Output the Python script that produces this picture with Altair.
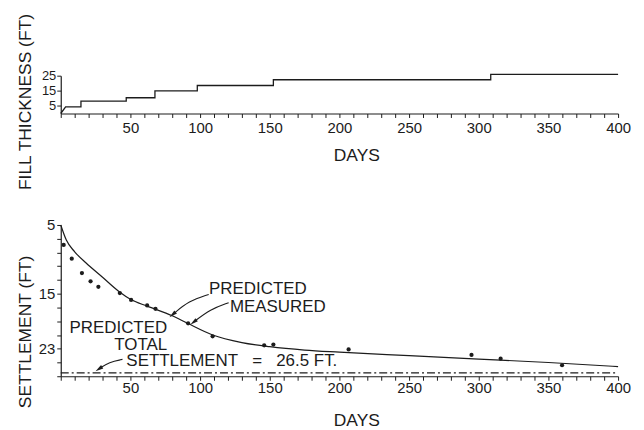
import math
import altair as alt
import pandas as pd

# ---- data ----
fill_days = [0, 3.5, 14.5, 14.5, 47, 47, 67.6, 67.6, 98, 98, 152.6, 152.6, 308.6, 308.6, 400]
fill_ft = [0, 4.4, 4.4, 8.2, 8.2, 10.4, 10.4, 15.0, 15.0, 18.5, 18.5, 22.3, 22.3, 25.8, 25.8]

meas_days = [2.1, 7.9, 15.2, 21.4, 27, 42.4, 50.5, 62, 68, 91.4, 109, 146, 152.6, 206.6, 294.8, 315.7, 359.8]
meas_ft = [7.9, 9.9, 12.0, 13.2, 14.0, 14.9, 15.9, 16.7, 17.2, 19.3, 21.2, 22.5, 22.4, 23.1, 23.9, 24.45, 25.4]

pred_days = [0, 4, 10, 18, 30, 42, 50, 62, 80, 91, 109, 130, 150, 175, 200, 250, 300, 350, 400]
pred_ft = [5, 7.2, 8.9, 10.5, 12.6, 14.7, 15.8, 16.8, 18.2, 19.3, 21.0, 22.1, 22.7, 23.2, 23.5, 24.0, 24.5, 25.0, 25.6]

total_days = [0, 400]
total_ft = [26.5, 26.5]

ann_text = ["PREDICTED", "MEASURED", "PREDICTED", "TOTAL",
            "SETTLEMENT\u00a0\u00a0 =\u00a0\u00a0 26.5 FT."]
ann_day = [106.4, 121.4, 76.4, 76.4, 47.1]
ann_ft = [14.35, 16.9, 20.0, 22.4, 24.8]
ann_align = ["left", "left", "right", "right", "left"]

# arrows: start, bend, tip (day, ft)
arrow_days = [[106.2, 91.9, 80.5], [120.5, 107.4, 95.5], [44.3, 34.8, 27.6]]
arrow_ft = [[15.1, 16.05, 18.0], [16.3, 17.25, 19.1], [24.55, 24.93, 25.9]]

# ---- styling ----
INK = "#1c1c1c"
FONT = "Liberation Sans"
W = 560
H_TOP = 38
H_BOT = 152
X_DOM = [0, 400]
Y_BOT_DOM = [5, 27]

fill_df = pd.DataFrame({"day": fill_days, "ft": fill_ft, "i": range(len(fill_days))})
meas_df = pd.DataFrame({"day": meas_days, "ft": meas_ft})
pred_df = pd.DataFrame({"day": pred_days, "ft": pred_ft})
total_df = pd.DataFrame({"day": total_days, "ft": total_ft})
ann_df = pd.DataFrame({"day": ann_day, "ft": ann_ft, "text": ann_text, "align": ann_align})

rows = []
heads = []
px_per_day = W / (X_DOM[1] - X_DOM[0])
px_per_ft = H_BOT / (Y_BOT_DOM[1] - Y_BOT_DOM[0])
for k, (ds, fs) in enumerate(zip(arrow_days, arrow_ft)):
    for j, (d, f) in enumerate(zip(ds, fs)):
        rows.append({"arrow": k, "j": j, "day": d, "ft": f})
    dx = (ds[-1] - ds[-2]) * px_per_day
    dy = (fs[-1] - fs[-2]) * px_per_ft
    ang = math.degrees(math.atan2(dx, -dy)) % 360
    heads.append({"day": ds[-1], "ft": fs[-1], "angle": ang})
arrow_df = pd.DataFrame(rows)
head_df = pd.DataFrame(heads)

x_vals = list(range(0, 401, 10))
x_label = "datum.value % 50 === 0 && datum.value > 0 ? datum.label : ''"


def x_axis(label_pad, title_pad):
    return alt.Axis(values=x_vals, labelExpr=x_label, labelFlush=False, labelOverlap=False,
                    title="DAYS", titleX=297, labelPadding=label_pad, titlePadding=title_pad)


x_top = alt.X("day:Q", scale=alt.Scale(domain=X_DOM, nice=False), axis=x_axis(3, 11))
y_top = alt.Y("ft:Q", scale=alt.Scale(domain=[0, 25], nice=False),
              axis=alt.Axis(values=[5, 15, 25], title="FILL THICKNESS (FT)", titleY=26,
                            labelFontSize=13, labelPadding=1, titlePadding=7,
                            labelFlush=False, labelOverlap=False))

top = alt.Chart(fill_df).mark_line(color=INK, strokeWidth=1.3).encode(
    x=x_top, y=y_top, order="i:Q"
).properties(width=W, height=H_TOP)

x_bot = alt.X("day:Q", scale=alt.Scale(domain=X_DOM, nice=False), axis=x_axis(0, 16))
y_bot = alt.Y("ft:Q", scale=alt.Scale(domain=Y_BOT_DOM, nice=False, reverse=True),
              axis=alt.Axis(values=list(range(5, 28, 2)),
                            labelExpr="datum.value == 5 || datum.value == 15 || datum.value == 23 ? datum.label : ''",
                            title="SETTLEMENT (FT)", titleY=107, labelFlush=False, labelOverlap=False))

pred = alt.Chart(pred_df).mark_line(color=INK, strokeWidth=1.2, interpolate="monotone").encode(x=x_bot, y=y_bot)
meas = alt.Chart(meas_df).mark_circle(color=INK, size=18, opacity=1).encode(x=x_bot, y=y_bot)
total = alt.Chart(total_df).mark_line(color=INK, strokeWidth=1.2, strokeDash=[8, 3, 2, 3]).encode(x=x_bot, y=y_bot)
ann_left = alt.Chart(ann_df).transform_filter("datum.align == 'left'").mark_text(
    color=INK, font=FONT, fontSize=17, baseline="middle", align="left"
).encode(x=x_bot, y=y_bot, text="text:N")
ann_right = alt.Chart(ann_df).transform_filter("datum.align == 'right'").mark_text(
    color=INK, font=FONT, fontSize=17, baseline="middle", align="right"
).encode(x=x_bot, y=y_bot, text="text:N")
arrows = alt.Chart(arrow_df).mark_line(color=INK, strokeWidth=1.1, interpolate="basis").encode(
    x=x_bot, y=y_bot, detail="arrow:N", order="j:Q"
)
arrow_heads = alt.Chart(head_df).mark_point(
    shape="M0,-1L0.45,0.8L-0.45,0.8Z", filled=True, color=INK, size=80, opacity=1
).encode(x=x_bot, y=y_bot, angle=alt.Angle("angle:Q", scale=None))

bottom = alt.layer(total, pred, meas, arrows, arrow_heads, ann_left, ann_right).properties(width=W, height=H_BOT)

chart = alt.vconcat(top, bottom, spacing=112, bounds="flush").properties(
    padding={"left": 8, "top": 4, "right": 5, "bottom": 0}
).configure_view(stroke=None).configure_axis(
    grid=False, domainColor=INK, tickColor=INK, labelColor=INK, titleColor=INK,
    labelFont=FONT, titleFont=FONT, labelFontSize=15, titleFontSize=17.5,
    titleFontWeight="normal", tickSize=4, domainWidth=1.2, tickWidth=1
)

chart.save("out.html", embed_options={"renderer": "svg", "actions": False})
